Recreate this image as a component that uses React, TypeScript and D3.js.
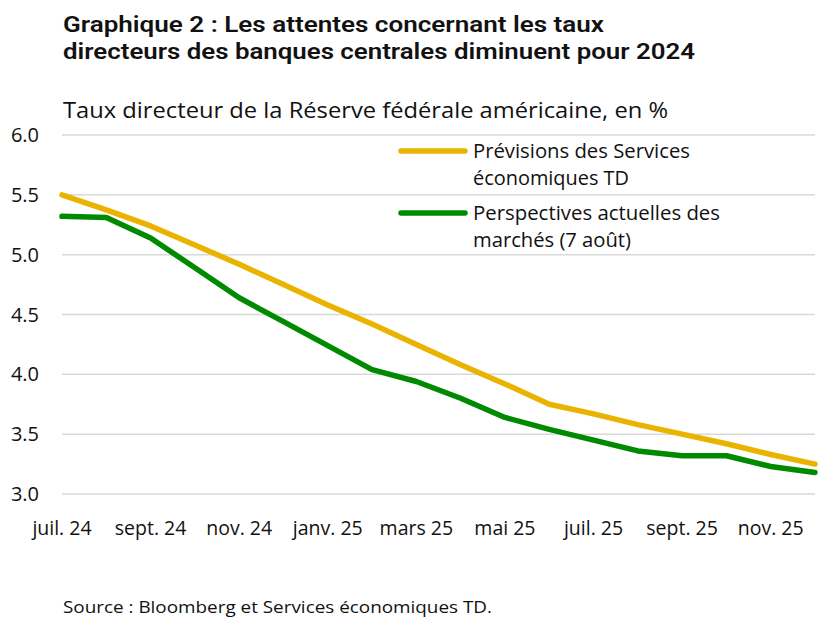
import React from "react";
import * as d3 from "d3";

const months = [
  "juil. 24", "août 24", "sept. 24", "oct. 24", "nov. 24", "déc. 24",
  "janv. 25", "févr. 25", "mars 25", "avr. 25", "mai 25", "juin 25",
  "juil. 25", "août 25", "sept. 25", "oct. 25", "nov. 25", "déc. 25",
];
const tdForecast = [5.5, 5.375, 5.24, 5.08, 4.92, 4.75, 4.58, 4.42, 4.25, 4.08, 3.92, 3.75, 3.67, 3.58, 3.5, 3.42, 3.33, 3.25];
const marketOutlook = [5.32, 5.31, 5.14, 4.89, 4.64, 4.44, 4.24, 4.04, 3.94, 3.8, 3.64, 3.54, 3.45, 3.36, 3.32, 3.32, 3.23, 3.18];
const yTicks = [3.0, 3.5, 4.0, 4.5, 5.0, 5.5, 6.0];
const xTickLabels = ["juil. 24", "sept. 24", "nov. 24", "janv. 25", "mars 25", "mai 25", "juil. 25", "sept. 25", "nov. 25"];

const GOLD = "#E9B300";
const GREEN = "#008A00";
const FONT = "'Open Sans', 'Noto Sans', sans-serif";
const TITLE_FONT = "Roboto, 'Open Sans', sans-serif";

export default function App() {
  const W = 827, H = 617;
  const x = d3.scaleLinear().domain([0, months.length - 1]).range([62, 815]);
  const y = d3.scaleLinear().domain([3, 6]).range([494, 135]);
  const line = d3.line<number>().x((_, i) => x(i)).y((d) => y(d));

  return (
    <svg width={W} height={H} style={{ position: "absolute", left: 0, top: 0, background: "#fff" }} fontFamily={FONT}>
      <rect x={0} y={0} width={W} height={H} fill="#fff" />
      <text x={63} y={31.5} fontSize={22} fontWeight={600} fontFamily={TITLE_FONT} fill="#111" textLength={541} lengthAdjust="spacingAndGlyphs">
        Graphique 2 : Les attentes concernant les taux
      </text>
      <text x={63} y={58.5} fontSize={22} fontWeight={600} fontFamily={TITLE_FONT} fill="#111" textLength={632} lengthAdjust="spacingAndGlyphs">
        directeurs des banques centrales diminuent  pour 2024
      </text>
      <text x={63} y={118} fontSize={21} fill="#111" textLength={605} lengthAdjust="spacingAndGlyphs">
        Taux directeur de la Réserve fédérale américaine, en %
      </text>

      {yTicks.map((t) => (
        <g key={t}>
          <line x1={62} x2={815} y1={y(t)} y2={y(t)} stroke="#d9d9d9" strokeWidth={1.5} />
          <text x={39} y={y(t)} dy="0.35em" textAnchor="end" fontSize={20} fill="#111">
            {t.toFixed(1)}
          </text>
        </g>
      ))}

      {xTickLabels.map((lab) => {
        const i = months.indexOf(lab);
        return (
          <text key={lab} x={x(i)} y={535} textAnchor="middle" fontSize={19.5} fill="#111">
            {lab}
          </text>
        );
      })}

      <path d={line(tdForecast) || ""} fill="none" stroke={GOLD} strokeWidth={5.5} strokeLinejoin="round" strokeLinecap="round" />
      <path d={line(marketOutlook) || ""} fill="none" stroke={GREEN} strokeWidth={5.5} strokeLinejoin="round" strokeLinecap="round" />

      <g>
        <line x1={401} x2={465} y1={151} y2={151} stroke={GOLD} strokeWidth={5.5} strokeLinecap="round" />
        <text x={473} y={158} fontSize={19.5} fill="#111" textLength={217} lengthAdjust="spacingAndGlyphs">Prévisions des Services</text>
        <text x={473} y={185} fontSize={19.5} fill="#111" textLength={156} lengthAdjust="spacingAndGlyphs">économiques TD</text>
        <line x1={401} x2={465} y1={213} y2={213} stroke={GREEN} strokeWidth={5.5} strokeLinecap="round" />
        <text x={473} y={220} fontSize={19.5} fill="#111" textLength={247} lengthAdjust="spacingAndGlyphs">Perspectives actuelles des</text>
        <text x={473} y={247} fontSize={19.5} fill="#111" textLength={158} lengthAdjust="spacingAndGlyphs">marchés (7 août)</text>
      </g>

      <text x={63} y={613} fontSize={16} fill="#111" textLength={429} lengthAdjust="spacingAndGlyphs">
        Source : Bloomberg et Services économiques TD.
      </text>
    </svg>
  );
}
